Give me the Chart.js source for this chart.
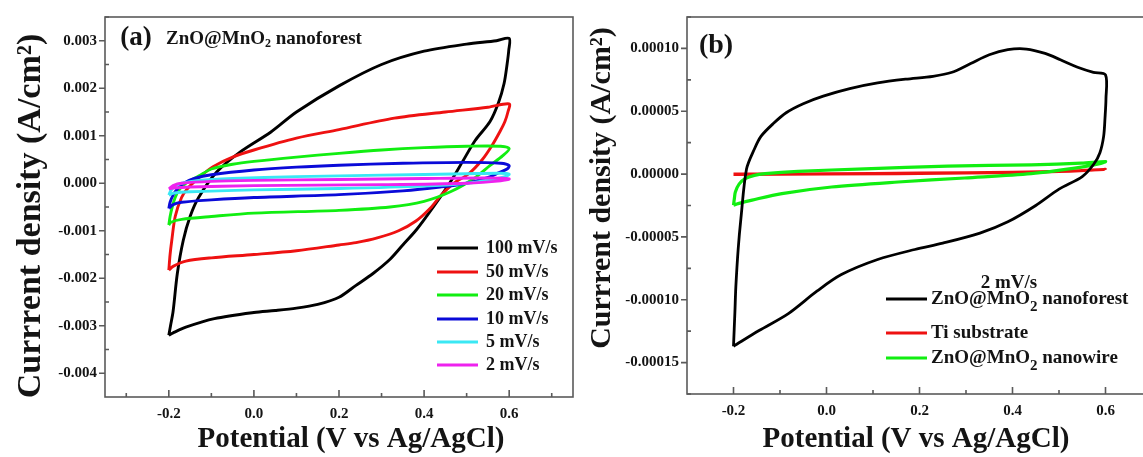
<!DOCTYPE html>
<html>
<head>
<meta charset="utf-8">
<script src="https://cdn.jsdelivr.net/npm/chart.js@4.4.0/dist/chart.umd.min.js"></script>
<style>
  html, body { margin: 0; padding: 0; background: #fff; overflow: hidden; }
  body { width: 1143px; height: 457px; position: relative; }
  canvas { position: absolute; top: 0; }
  #cvA { left: 0; }
  #cvB { left: 572px; }
</style>
</head>
<body>
<canvas id="cvA" width="580" height="457"></canvas>
<canvas id="cvB" width="640" height="457"></canvas>
<script>
// ---- (a) ZnO@MnO2 nanoforest at different scan rates ----
const rateLabels = ['100 mV/s', '50 mV/s', '20 mV/s', '10 mV/s', '5 mV/s', '2 mV/s'];

const e100 = [-0.2, -0.196, -0.19, -0.18, -0.166, -0.15, -0.13, -0.087, -0.032, 0.04, 0.1, 0.2, 0.3, 0.4, 0.5, 0.57, 0.6,
  0.599, 0.595, 0.588, 0.575, 0.555, 0.52, 0.49, 0.462, 0.435, 0.407, 0.38, 0.35, 0.32, 0.28, 0.24, 0.2, 0.15, 0.1, 0.05, 0.0, -0.093, -0.16, -0.19, -0.2];
const j100 = [-0.0032, -0.003, -0.0027, -0.0019, -0.0012, -0.0007, -0.0003, 0.00024, 0.00066, 0.00108, 0.0015, 0.00205, 0.0025, 0.00278, 0.00293, 0.003, 0.00305,
  0.0028, 0.0025, 0.0021, 0.0017, 0.0013, 0.0009, 0.00045, 0.00003, -0.00033, -0.00068, -0.001, -0.0013, -0.0016, -0.0019, -0.00215, -0.0024, -0.00255, -0.00263, -0.00268, -0.00272, -0.00285, -0.00303, -0.00315, -0.0032];

const e50 = [-0.2, -0.197, -0.193, -0.185, -0.17, -0.155, -0.125, -0.096, -0.05, 0.0, 0.1, 0.2, 0.33, 0.45, 0.55, 0.6,
  0.597, 0.59, 0.579, 0.56, 0.537, 0.505, 0.47, 0.44, 0.415, 0.38, 0.34, 0.29, 0.24, 0.2, 0.1, 0.0, -0.1, -0.16, -0.19, -0.2];
const j50 = [-0.00183, -0.0015, -0.0012, -0.0007, -0.0003, -0.0001, 0.00015, 0.00035, 0.00055, 0.0007, 0.00095, 0.00113, 0.00137, 0.0015, 0.0016, 0.00167,
  0.0015, 0.0013, 0.0011, 0.0008, 0.0005, 0.0002, 0.0, -0.00025, -0.00052, -0.0008, -0.001, -0.00115, -0.00125, -0.0013, -0.00142, -0.0015, -0.00157, -0.00164, -0.00175, -0.00183];

const e20 = [-0.2, -0.197, -0.192, -0.185, -0.175, -0.16, -0.13, -0.1, -0.05, 0.0, 0.1, 0.2, 0.3, 0.4, 0.5, 0.58, 0.6,
  0.585, 0.556, 0.517, 0.462, 0.4, 0.32, 0.2, 0.0, -0.1, -0.17, -0.195, -0.2];
const j20 = [-0.00088, -0.0007, -0.0005, -0.0003, -0.00013, 0.0, 0.00015, 0.0003, 0.0004, 0.00046, 0.00055, 0.00063, 0.0007, 0.00075, 0.00078, 0.00078, 0.00073,
  0.00058, 0.00038, 0.0001, -0.00018, -0.00038, -0.0005, -0.00057, -0.00063, -0.0007, -0.00076, -0.00082, -0.00088];

const e10 = [-0.2, -0.197, -0.19, -0.18, -0.165, -0.14, -0.1, 0.0, 0.1, 0.2, 0.35, 0.5, 0.58, 0.6,
  0.595, 0.575, 0.556, 0.5, 0.438, 0.35, 0.2, 0.0, -0.1, -0.17, -0.19, -0.2];
const j10 = [-0.00053, -0.0004, -0.00025, -0.00012, 0.0, 0.0001, 0.00018, 0.00028, 0.00034, 0.00038, 0.00042, 0.00044, 0.00042, 0.00037,
  0.0003, 0.00022, 0.00014, 0.0, -0.00008, -0.00016, -0.00024, -0.0003, -0.00035, -0.0004, -0.00045, -0.00053];

const e5 = [-0.2, -0.195, -0.185, -0.17, -0.13, -0.05, 0.1, 0.3, 0.5, 0.58, 0.6,
  0.59, 0.56, 0.5, 0.4, 0.2, 0.0, -0.15, -0.19, -0.2];
const j5 = [-0.00025, -0.00015, -0.00006, 0.0, 0.00006, 0.0001, 0.00014, 0.00017, 0.0002, 0.00021, 0.00019,
  0.00014, 0.00008, 0.0, -0.00006, -0.00011, -0.00014, -0.00018, -0.00021, -0.00025];

const e2 = [-0.2, -0.19, -0.17, -0.1, 0.0, 0.2, 0.4, 0.55, 0.6,
  0.58, 0.5, 0.3, 0.0, -0.15, -0.19, -0.2];
const j2 = [-0.00012, -0.00005, 0.0, 0.00004, 0.00006, 0.00008, 0.0001, 0.00011, 0.00009,
  0.00005, 0.0, -0.00003, -0.00005, -0.00008, -0.0001, -0.00012];

// ---- (b) comparison at 2 mV/s ----
const sampleLabels = ['ZnO@MnO₂ nanoforest', 'Ti substrate', 'ZnO@MnO₂ nanowire'];

const eForest = [-0.2, -0.197, -0.195, -0.19, -0.184, -0.172, -0.155, -0.141, -0.115, -0.086, -0.05, -0.007, 0.05, 0.11, 0.17, 0.229, 0.27, 0.31, 0.35, 0.39, 0.43, 0.47, 0.503, 0.54, 0.574, 0.6,
  0.601, 0.599, 0.596, 0.588, 0.575, 0.55, 0.5, 0.45, 0.39, 0.33, 0.25, 0.19, 0.11, 0.032, -0.02, -0.082, -0.145, -0.2];
const jForest = [-0.000137, -0.00011, -0.00009, -0.00006, -0.000035, 0.000004, 0.00002, 0.00003, 0.00004, 0.000049, 0.000056, 0.000062, 0.000068, 0.0000725, 0.0000755, 0.0000778, 0.000081, 0.000088, 0.000095, 0.000099, 0.0000995, 0.000096, 0.000091, 0.000085, 0.000081, 0.000079,
  0.00006, 0.000045, 0.00003, 0.000017, 0.000008, -0.000002, -0.000012, -0.000025, -0.000038, -0.000047, -0.000055, -0.00006, -0.000068, -0.00008, -0.000093, -0.000111, -0.0001245, -0.000137];

const eTi = [-0.2, -0.1, 0.0, 0.2, 0.4, 0.5, 0.6, 0.5, 0.3, 0.0, -0.2];
const jTi = [0.0, 0.0, 0.0000003, 0.0000008, 0.0000015, 0.0000022, 0.0000038, 0.000002, 0.0000008, 0.0, -0.0000003];

const eWire = [-0.2, -0.198, -0.196, -0.188, -0.175, -0.155, -0.132, -0.061, 0.082, 0.26, 0.44, 0.548, 0.6,
  0.59, 0.548, 0.44, 0.297, 0.154, 0.011, -0.096, -0.16, -0.19, -0.2];
const jWire = [-0.0000247, -0.000019, -0.0000142, -0.000008, -0.0000037, -0.000001, 0.0000003, 0.0000021, 0.0000042, 0.0000063, 0.0000074, 0.0000087, 0.00001,
  0.0000085, 0.0000055, 0.0000003, -0.0000031, -0.0000063, -0.0000103, -0.0000155, -0.0000207, -0.0000235, -0.0000247];

// ---- tick values ----
const potentialTicks = [-0.2, 0.0, 0.2, 0.4, 0.6];
const currentTicksA = [-0.004, -0.003, -0.002, -0.001, 0, 0.001, 0.002, 0.003];
const currentTicksB = [-0.00015, -0.0001, -0.00005, 0, 0.00005, 0.0001];

const X_TITLE = 'Potential (V vs Ag/AgCl)';
const Y_TITLE = 'Currrent density (A/cm²)';

const SERIF = '"Liberation Serif", "Times New Roman", serif';
const INK = '#141414';

function toPoints(e, j) {
  return e.map((x, k) => ({ x: x, y: j[k] }));
}

function curve(label, e, j, color, order, width) {
  return {
    label: label,
    data: toPoints(e, j),
    borderColor: color,
    backgroundColor: color,
    borderWidth: width,
    showLine: true,
    pointRadius: 0,
    tension: 0.3,
    order: order
  };
}

// draws text where '₂' becomes a lowered, smaller 2
function drawRich(ctx, text, x, y, size, sub) {
  const parts = text.split('₂');
  let cx = x;
  parts.forEach((p, k) => {
    ctx.font = 'bold ' + size + 'px ' + SERIF;
    ctx.fillText(p, cx, y);
    cx += ctx.measureText(p).width;
    if (k < parts.length - 1) {
      ctx.font = 'bold ' + sub.size + 'px ' + SERIF;
      ctx.fillText('2', cx, y + sub.shift);
      cx += ctx.measureText('2').width;
    }
  });
}

function halfSteps(scale) {
  const v = scale.ticks.map(t => t.value);
  const step = v[1] - v[0];
  const out = [];
  for (let m = v[0] - step / 2; m < scale.max; m += step) {
    if (m > scale.min) out.push(m);
  }
  return out;
}

// axis box, Origin-style tick marks, axis titles, notes and the in-plot legend
const panelDecor = {
  id: 'panelDecor',
  afterDraw(chart, args, o) {
    const { ctx, chartArea: a } = chart;
    const x = chart.scales.x, y = chart.scales.y;
    ctx.save();
    ctx.strokeStyle = '#5a5a5a';
    ctx.lineWidth = 1.6;
    ctx.strokeRect(a.left, a.top, a.right - a.left, a.bottom - a.top);

    ctx.beginPath();
    x.ticks.forEach(t => {
      const px = x.getPixelForValue(t.value);
      ctx.moveTo(px, a.bottom); ctx.lineTo(px, a.bottom - 7);
    });
    halfSteps(x).forEach(v => {
      const px = x.getPixelForValue(v);
      ctx.moveTo(px, a.bottom); ctx.lineTo(px, a.bottom - 4);
    });
    y.ticks.forEach(t => {
      const py = y.getPixelForValue(t.value);
      ctx.moveTo(a.left - 6, py); ctx.lineTo(a.left, py);
    });
    halfSteps(y).forEach(v => {
      const py = y.getPixelForValue(v);
      ctx.moveTo(a.left, py); ctx.lineTo(a.left + 4, py);
    });
    ctx.stroke();

    ctx.fillStyle = INK;
    ctx.textBaseline = 'middle';

    // axis titles
    (o.titles || []).forEach(t => {
      ctx.save();
      ctx.translate(t.x, t.y);
      if (t.vertical) ctx.rotate(-Math.PI / 2);
      ctx.textAlign = 'center';
      ctx.font = 'bold ' + t.size + 'px ' + SERIF;
      ctx.fillText(t.text, 0, 0);
      ctx.restore();
    });

    (o.notes || []).forEach(n => {
      ctx.textAlign = n.align || 'left';
      if (n.sub) {
        drawRich(ctx, n.text, n.x, n.y, n.size, n.sub);
      } else {
        ctx.font = 'bold ' + n.size + 'px ' + SERIF;
        ctx.fillText(n.text, n.x, n.y);
      }
    });

    const lg = o.legend;
    if (lg) {
      ctx.textAlign = 'left';
      chart.data.datasets.forEach((ds, k) => {
        const ry = lg.rows[k];
        ctx.strokeStyle = ds.borderColor;
        ctx.lineWidth = lg.lineWidth;
        ctx.beginPath();
        ctx.moveTo(lg.line[0], ry); ctx.lineTo(lg.line[1], ry);
        ctx.stroke();
        ctx.fillStyle = INK;
        drawRich(ctx, ds.label, lg.textX, ry, lg.size, lg.sub);
      });
    }
    ctx.restore();
  }
};

function axisOptions(opts) {
  return {
    type: 'linear',
    min: opts.min,
    max: opts.max,
    afterBuildTicks: s => { s.ticks = opts.values.map(v => ({ value: v })); },
    afterFit: s => {
      if (opts.width) s.width = opts.width;
      if (opts.height) s.height = opts.height;
    },
    grid: { display: false, drawTicks: false },
    border: { display: false },
    ticks: {
      autoSkip: false,
      maxRotation: 0,
      padding: opts.pad,
      color: INK,
      font: { family: SERIF, size: 15, weight: 'bold' },
      callback: v => v.toFixed(opts.digits)
    },
    title: { display: false }
  };
}

const rateColors = ['#000000', '#ee1111', '#11ee11', '#0a0ad8', '#3ae8f4', '#ee22ee'];
const rateSeries = [[e100, j100], [e50, j50], [e20, j20], [e10, j10], [e5, j5], [e2, j2]];

new Chart(document.getElementById('cvA'), {
  type: 'scatter',
  data: {
    datasets: rateSeries.map((s, k) => curve(rateLabels[k], s[0], s[1], rateColors[k], rateSeries.length - k, 2.9))
  },
  options: {
    responsive: false,
    animation: false,
    devicePixelRatio: 1,
    layout: { padding: { left: 0, right: 7, top: 14, bottom: 0 } },
    plugins: {
      legend: { display: false },
      tooltip: { enabled: false },
      panelDecor: {
        titles: [
          { text: X_TITLE, x: 351, y: 440, size: 29 },
          { text: Y_TITLE, x: 31, y: 216, size: 34, vertical: true }
        ],
        notes: [
          { text: '(a)', x: 136, y: 38, size: 27, align: 'center' },
          { text: 'ZnO@MnO₂ nanoforest', x: 166, y: 39, size: 19, sub: { size: 12, shift: 5 } }
        ],
        legend: {
          rows: [248, 272, 295, 319, 342, 365],
          line: [437, 478],
          textX: 486,
          size: 18,
          lineWidth: 3,
          sub: { size: 12, shift: 5 }
        }
      }
    },
    scales: {
      x: axisOptions({ min: -0.35, max: 0.75, values: potentialTicks, digits: 1, pad: 8, height: 60 }),
      y: axisOptions({ min: -0.0045, max: 0.0035, values: currentTicksA, digits: 3, pad: 8, width: 105 })
    }
  },
  plugins: [panelDecor]
});

const sampleColors = ['#000000', '#ee1111', '#11ee11'];
const sampleSeries = [[eForest, jForest], [eTi, jTi], [eWire, jWire]];
const sampleOrder = [0, 2, 1];
const sampleWidth = [2.8, 3, 3.2];

new Chart(document.getElementById('cvB'), {
  type: 'scatter',
  data: {
    datasets: sampleSeries.map((s, k) => curve(sampleLabels[k], s[0], s[1], sampleColors[k], sampleOrder[k], sampleWidth[k]))
  },
  options: {
    responsive: false,
    animation: false,
    devicePixelRatio: 1,
    layout: { padding: { left: 0, right: 13.5, top: 14, bottom: 0 } },
    plugins: {
      legend: { display: false },
      tooltip: { enabled: false },
      panelDecor: {
        titles: [
          { text: X_TITLE, x: 344, y: 440, size: 29 },
          { text: Y_TITLE, x: 30, y: 188, size: 30, vertical: true }
        ],
        notes: [
          { text: '(b)', x: 144, y: 46, size: 28, align: 'center' },
          { text: '2 mV/s', x: 437, y: 283, size: 19, align: 'center' }
        ],
        legend: {
          rows: [299, 333, 358],
          line: [314, 355],
          textX: 359,
          size: 19,
          lineWidth: 3,
          sub: { size: 15, shift: 8 }
        }
      }
    },
    scales: {
      x: axisOptions({ min: -0.3, max: 0.8, values: potentialTicks, digits: 1, pad: 8, height: 63 }),
      y: axisOptions({ min: -0.000175, max: 0.000125, values: currentTicksB, digits: 5, pad: 8, width: 115 })
    }
  },
  plugins: [panelDecor]
});
</script>
</body>
</html>
